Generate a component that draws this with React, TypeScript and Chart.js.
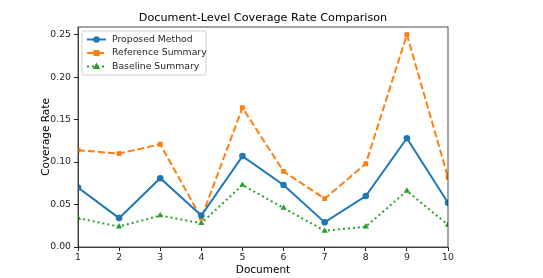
import React, { useEffect, useRef } from "react";
import { Chart, registerables } from "chart.js";

Chart.register(...registerables);

const documents = [1, 2, 3, 4, 5, 6, 7, 8, 9, 10];
const proposedMethod = [0.070, 0.034, 0.081, 0.037, 0.107, 0.073, 0.029, 0.060, 0.128, 0.052];
const referenceSummary = [0.114, 0.110, 0.121, 0.034, 0.164, 0.089, 0.057, 0.098, 0.250, 0.082];
const baselineSummary = [0.034, 0.024, 0.037, 0.028, 0.073, 0.046, 0.019, 0.024, 0.066, 0.026];
const yTicks = [0, 0.05, 0.1, 0.15, 0.2, 0.25];
const chartTitle = "Document-Level Coverage Rate Comparison";

const FONT = "'DejaVu Sans', sans-serif";

const frameAndLegend = {
  id: "frameAndLegend",
  afterDatasetsDraw(chart: any) {
    const { ctx, chartArea } = chart;
    const { left, right, top, bottom } = chartArea;
    ctx.save();
    ctx.strokeStyle = "#222";
    ctx.lineWidth = 0.8;
    ctx.strokeRect(left, top, right - left, bottom - top);

    // title
    ctx.fillStyle = "#000";
    ctx.font = `11.2px ${FONT}`;
    ctx.textAlign = "center";
    ctx.textBaseline = "middle";
    ctx.fillText(chartTitle, (left + right) / 2, 18);

    // legend
    const lx = left + 4;
    const ly = top + 4;
    const w = 124;
    const h = 44;
    ctx.fillStyle = "rgba(255,255,255,0.8)";
    ctx.strokeStyle = "#d0d0d0";
    ctx.lineWidth = 1;
    ctx.beginPath();
    ctx.roundRect(lx, ly, w, h, 2);
    ctx.fill();
    ctx.stroke();
    ctx.font = `9.3px ${FONT}`;
    ctx.textBaseline = "middle";
    chart.data.datasets.forEach((ds: any, i: number) => {
      const y = ly + 8.5 + i * 13.5;
      const x0 = lx + 5;
      const x1 = lx + 24;
      ctx.strokeStyle = ds.borderColor;
      ctx.lineWidth = ds.borderWidth;
      ctx.setLineDash(ds.borderDash || []);
      ctx.beginPath();
      ctx.moveTo(x0, y);
      ctx.lineTo(x1, y);
      ctx.stroke();
      ctx.setLineDash([]);
      ctx.fillStyle = ds.borderColor;
      const cx = (x0 + x1) / 2;
      const r = ds.pointRadius;
      ctx.beginPath();
      if (ds.pointStyle === "circle") {
        ctx.arc(cx, y, r, 0, Math.PI * 2);
      } else if (ds.pointStyle === "rect") {
        ctx.rect(cx - r * 0.9, y - r * 0.9, 1.8 * r, 1.8 * r);
      } else {
        ctx.moveTo(cx, y - r * 1.1);
        ctx.lineTo(cx + r, y + r * 0.7);
        ctx.lineTo(cx - r, y + r * 0.7);
        ctx.closePath();
      }
      ctx.fill();
      ctx.fillStyle = "#262626";
      ctx.textAlign = "left";
      ctx.fillText(ds.label, lx + 30, y);
    });
    ctx.restore();
  },
};

export default function App() {
  const ref = useRef<HTMLCanvasElement | null>(null);
  useEffect(() => {
    document.body.style.margin = "0";
    const mk = (vals: number[]) => documents.map((d, i) => ({ x: d, y: vals[i] }));
    const chart = new Chart(ref.current!, {
      type: "line",
      data: {
        datasets: [
          {
            label: "Proposed Method",
            data: mk(proposedMethod),
            borderColor: "#1f77b4",
            backgroundColor: "#1f77b4",
            borderWidth: 2,
            pointStyle: "circle",
            pointRadius: 3.3,
            pointBorderWidth: 0,
          },
          {
            label: "Reference Summary",
            data: mk(referenceSummary),
            borderColor: "#ff7f0e",
            backgroundColor: "#ff7f0e",
            borderWidth: 2,
            borderDash: [7, 3],
            pointStyle: "rect",
            pointRadius: 3.4,
            pointBorderWidth: 0,
          },
          {
            label: "Baseline Summary",
            data: mk(baselineSummary),
            borderColor: "#2ca02c",
            backgroundColor: "#2ca02c",
            borderWidth: 2,
            borderDash: [2, 3],
            pointStyle: "triangle",
            pointRadius: 3.6,
            pointBorderWidth: 0,
          },
        ] as any,
      },
      options: {
        responsive: false,
        animation: false,
        layout: { padding: { left: 0, right: 95, top: 27, bottom: 0 } },
        plugins: {
          legend: { display: false },
          tooltip: { enabled: false },
          title: { display: false },
        },
        scales: {
          x: {
            type: "linear",
            min: 1,
            max: 10,
            afterBuildTicks: (s: any) => {
              s.ticks = documents.map((v) => ({ value: v }));
            },
            ticks: {
              color: "#262626",
              font: { family: FONT, size: 9.3 },
              padding: 1,
              maxRotation: 0,
            },
            grid: { drawOnChartArea: false, drawTicks: true, tickLength: 4, color: "#222" },
            border: { display: true, color: "#222", width: 0.8 },
            title: {
              display: true,
              text: "Document",
              color: "#000",
              font: { family: FONT, size: 10.5 },
              padding: { top: 0, bottom: 1 },
            },
            afterFit: (s: any) => {
              s.height = 31;
            },
          },
          y: {
            type: "linear",
            min: 0,
            max: 0.259,
            afterBuildTicks: (s: any) => {
              s.ticks = yTicks.map((v) => ({ value: v }));
            },
            ticks: {
              color: "#262626",
              font: { family: FONT, size: 9.3 },
              padding: 3,
              callback: (v: any) => Number(v).toFixed(2),
            },
            grid: { drawOnChartArea: false, drawTicks: true, tickLength: 4, color: "#222" },
            border: { display: true, color: "#222", width: 0.8 },
            title: {
              display: true,
              text: "Coverage Rate",
              color: "#000",
              font: { family: FONT, size: 10.5 },
              padding: { top: 40, bottom: 0 },
            },
            afterFit: (s: any) => {
              s.width = 78;
            },
          },
        },
      },
      plugins: [frameAndLegend],
    });
    return () => chart.destroy();
  }, []);
  return <canvas ref={ref} width={543} height={278} style={{ display: "block" }} />;
}
